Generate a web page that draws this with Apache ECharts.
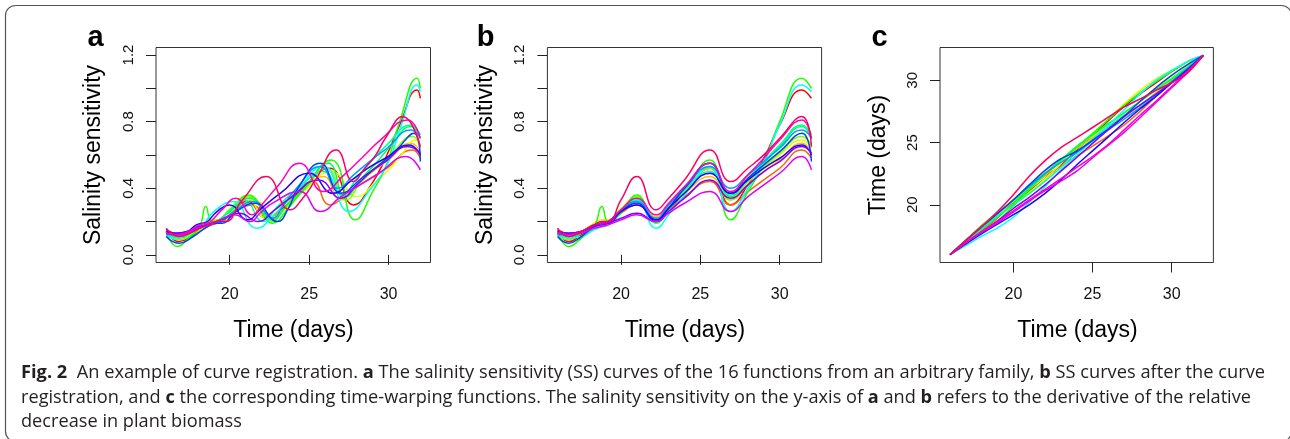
<!DOCTYPE html>
<html><head><meta charset="utf-8">
<script src="https://cdn.jsdelivr.net/npm/echarts@6/dist/echarts.min.js"></script>
<style>html,body{margin:0;padding:0;background:#fff}#chart{width:1290px;height:439px}</style>
</head><body><div id="chart"></div>
<script>
// ---------- DATA ----------
// registered time grid (panel b) and original-time positions of the same points (panel a)
const regTimes = [16, 16.7, 17.5, 18.3, 18.8, 19.2, 20, 21, 22.2, 23, 24, 25.6, 26.9, 28, 29, 30, 31.4, 32];
const warpTimes = [16, 17, 18, 19, 20, 21, 22, 23, 24, 25, 26, 27, 28, 29, 30, 31, 32];
const xTicks = [20, 25, 30];
const ssTicks = [0, 0.2, 0.4, 0.6, 0.8, 1.0, 1.2];
const ssLabels = [0, 0.4, 0.8, 1.2];
const warpTicks = [20, 25, 30];

// salinity sensitivity values of the 16 functions (same amplitudes in a and b)
const ssValues = [
  [0.14,0.08,0.12,0.17,0.19,0.20,0.26,0.32,0.22,0.27,0.38,0.52,0.30,0.42,0.58,0.78,0.99,0.94],
  [0.13,0.11,0.13,0.17,0.18,0.19,0.25,0.30,0.21,0.27,0.35,0.44,0.30,0.38,0.45,0.52,0.63,0.58],
  [0.12,0.12,0.14,0.18,0.19,0.20,0.26,0.33,0.23,0.29,0.37,0.47,0.33,0.42,0.50,0.57,0.67,0.62],
  [0.13,0.11,0.14,0.19,0.21,0.21,0.28,0.35,0.22,0.29,0.38,0.50,0.35,0.44,0.52,0.60,0.69,0.64],
  [0.12,0.09,0.13,0.18,0.20,0.20,0.27,0.35,0.20,0.28,0.38,0.52,0.33,0.44,0.53,0.61,0.71,0.66],
  [0.14,0.05,0.10,0.17,0.29,0.20,0.25,0.36,0.19,0.27,0.39,0.57,0.21,0.38,0.55,0.80,1.06,1.00],
  [0.13,0.10,0.13,0.18,0.19,0.20,0.27,0.34,0.21,0.30,0.40,0.55,0.35,0.46,0.55,0.65,0.77,0.70],
  [0.12,0.11,0.14,0.18,0.19,0.20,0.27,0.33,0.20,0.29,0.39,0.50,0.36,0.46,0.56,0.66,0.78,0.72],
  [0.13,0.10,0.11,0.15,0.17,0.18,0.26,0.32,0.16,0.24,0.36,0.53,0.26,0.40,0.56,0.78,1.02,0.98],
  [0.12,0.12,0.14,0.18,0.19,0.20,0.27,0.32,0.22,0.30,0.40,0.53,0.40,0.48,0.56,0.64,0.75,0.70],
  [0.11,0.07,0.11,0.17,0.19,0.19,0.26,0.31,0.20,0.28,0.40,0.55,0.37,0.46,0.54,0.62,0.73,0.56],
  [0.14,0.13,0.14,0.18,0.19,0.20,0.26,0.30,0.21,0.28,0.37,0.49,0.37,0.45,0.52,0.58,0.66,0.60],
  [0.15,0.13,0.14,0.17,0.18,0.19,0.22,0.25,0.20,0.26,0.34,0.45,0.34,0.42,0.50,0.56,0.65,0.61],
  [0.13,0.12,0.13,0.16,0.17,0.18,0.21,0.24,0.20,0.25,0.31,0.38,0.26,0.35,0.42,0.49,0.59,0.51],
  [0.13,0.12,0.14,0.18,0.19,0.20,0.27,0.34,0.24,0.31,0.41,0.55,0.38,0.48,0.58,0.69,0.81,0.70],
  [0.16,0.11,0.14,0.18,0.20,0.20,0.33,0.47,0.27,0.34,0.45,0.63,0.44,0.52,0.60,0.70,0.83,0.65]
];
// original (unregistered) times of the points above, panel a
const origTimes = [
  [16,16.8,17.7,18.6,19.1,19.5,20.2,21.1,22.3,23.2,24.4,26.3,27.8,28.9,29.8,30.7,31.8,32],
  [16,16.7,17.4,18.2,18.7,19.2,20.2,21.4,22.5,23.1,23.9,25.2,26.3,27.5,28.7,29.9,31.5,32],
  [16,16.8,17.6,18.5,19.0,19.4,20.3,21.5,22.8,23.6,24.5,25.9,27.0,28,29,30,31.4,32],
  [16,16.8,17.7,18.5,19.0,19.3,20,21,22.3,23.3,24.6,26.4,28.0,29.2,30.1,30.8,31.7,32],
  [16,16.8,17.8,18.7,19.2,19.6,20.3,21.3,22.6,23.5,24.6,26.1,27.3,28.3,29.3,30.2,31.5,32],
  [16,16.7,17.4,18.1,18.5,18.9,19.9,21.2,22.7,23.6,24.6,26.4,27.9,29.0,29.9,30.7,31.8,32],
  [16,16.8,17.6,18.3,18.8,19.2,20.1,21.3,22.7,23.6,24.7,26.2,27.3,28.3,29.2,30.1,31.4,32],
  [16,16.7,17.6,18.4,18.9,19.3,20,20.9,22.1,23,24.2,25.9,27.1,28,28.9,29.9,31.4,32],
  [16,16.5,17.1,17.7,18.0,18.3,19.0,20.2,21.7,22.8,24,25.9,27.5,28.9,30.0,30.8,31.8,32],
  [16,16.8,17.7,18.5,19.1,19.5,20.4,21.5,22.7,23.4,24.2,25.7,26.8,27.8,28.8,29.9,31.4,32],
  [16,16.8,17.7,18.6,19.1,19.5,20.4,21.6,23.0,23.7,24.3,25.7,27.0,28.3,29.4,30.4,31.6,32],
  [16,16.6,17.3,17.9,18.3,18.6,19.2,20.0,21.1,22.0,23.2,25.0,26.5,27.7,28.7,29.8,31.3,32],
  [16,16.7,17.4,18.1,18.5,18.9,19.7,20.6,21.8,22.7,23.8,25.6,27.0,28,28.9,29.8,31.2,32],
  [16,16.7,17.4,18.0,18.4,18.7,19.4,20.3,21.3,21.9,22.7,24.4,25.7,27.0,28.2,29.4,31.1,32],
  [16,16.7,17.4,18.1,18.5,18.8,19.5,20.4,21.4,22.1,23.0,24.4,25.9,27.2,28.3,29.5,31.2,32],
  [16,16.8,17.7,18.6,19.2,19.7,20.8,22.3,23.8,24.6,25.4,26.7,27.8,28.5,29.2,29.8,30.9,32]
];
// time-warping functions, panel c
const warpValues = [
  [16,17.14,18.26,19.3,20.2,21.1,22.1,23.2,24.4,25.59,26.76,27.9,28.9,29.8,30.7,31.49,32],
  [16,16.96,17.9,18.95,20.2,21.4,22.32,23.1,23.9,24.71,25.54,26.41,27.5,28.7,29.9,31.04,32],
  [16,17.1,18.16,19.2,20.3,21.5,22.58,23.6,24.5,25.38,26.24,27.09,28,29,30,31,32],
  [16,17.14,18.2,19.15,20,21,22.08,23.3,24.6,25.73,26.89,28.11,29.2,30.1,30.8,31.44,32],
  [16,17.18,18.36,19.4,20.3,21.3,22.38,23.5,24.6,25.54,26.47,27.39,28.3,29.3,30.2,31.13,32],
  [16,16.96,17.84,18.7,19.9,21.2,22.45,23.6,24.6,25.73,26.86,28,29,29.9,30.7,31.49,32],
  [16,17.1,18.04,19,20.1,21.3,22.47,23.6,24.7,25.64,26.54,27.39,28.3,29.2,30.1,31.03,32],
  [16,17.04,18.1,19.1,20,20.9,21.9,23,24.2,25.26,26.27,27.18,28,28.9,29.9,30.97,32],
  [16,16.73,17.48,18.15,19,20.2,21.45,22.8,24,25.19,26.39,27.63,28.9,30,30.8,31.51,32],
  [16,17.14,18.2,19.3,20.4,21.5,22.5,23.4,24.2,25.14,26.04,26.89,27.8,28.8,29.9,30.97,32],
  [16,17.14,18.26,19.3,20.4,21.6,22.77,23.7,24.3,25.18,26.1,27.12,28.3,29.4,30.4,31.26,32],
  [16,16.86,17.68,18.45,19.2,20,20.92,22,23.2,24.33,25.46,26.61,27.7,28.7,29.8,30.87,32],
  [16,16.96,17.84,18.7,19.7,20.6,21.6,22.7,23.8,24.93,26.03,27.09,28,28.9,29.8,30.8,32],
  [16,16.96,17.78,18.55,19.4,20.3,21.13,21.9,22.7,23.76,24.8,25.82,27,28.2,29.4,30.61,32],
  [16,16.96,17.84,18.65,19.5,20.4,21.23,22.1,23,23.88,24.86,26.02,27.2,28.3,29.5,30.71,32],
  [16,17.14,18.26,19.45,20.8,22.3,23.55,24.6,25.4,26.21,27.04,27.86,28.5,29.2,29.8,30.59,32]
];

// ---------- STYLE ----------
const palette = ['#FF0000','#FF6000','#FFBF00','#DFFF00','#80FF00','#20FF00','#00FF40','#00FF9F',
                 '#00FFFF','#009FFF','#0040FF','#2000FF','#8000FF','#DF00FF','#FF00BF','#FF0060'];
const AX_FONT = 'Liberation Sans';
const grids = [
  {left:156, top:47.5, width:274.5, height:215},
  {left:547.4, top:47.5, width:274.2, height:215},
  {left:940, top:47.5, width:273.4, height:215}
];

function xAxis(i){
  return {type:'value', gridIndex:i, min:15.36, max:32.64,
    axisLine:{show:false}, splitLine:{show:false},
    axisTick:{show:true, length:10, inside:false, customValues:xTicks, lineStyle:{color:'#222', width:1}},
    axisLabel:{customValues:xTicks, fontSize:16, color:'#111', fontFamily:AX_FONT, margin:24}};
}
function yAxis(i, isWarp){
  const ax = {type:'value', gridIndex:i,
    axisLine:{show:false}, splitLine:{show:false},
    axisTick:{show:true, length:10, lineStyle:{color:'#222', width:1}},
    axisLabel:{fontSize:15, color:'#111', fontFamily:AX_FONT, rotate:90, margin:20}};
  if (isWarp){
    ax.min = 15.36; ax.max = 32.64;
    ax.axisTick.customValues = warpTicks;
    ax.axisLabel.customValues = warpTicks;
  } else {
    ax.min = -0.046; ax.max = 1.245;
    ax.axisTick.customValues = ssTicks;
    ax.axisLabel.customValues = ssLabels;
    ax.axisLabel.formatter = v => Number(v).toFixed(1);
  }
  return ax;
}

const series = [];
for (let k = 0; k < 16; k++){
  const base = {type:'line', showSymbol:false, silent:true, animation:false,
    lineStyle:{width:1.5, color:palette[k]}, itemStyle:{color:palette[k]}};
  series.push(Object.assign({}, base, {xAxisIndex:0, yAxisIndex:0, smooth:0.5,
    data: origTimes[k].map((t, j) => [t, ssValues[k][j]])}));
  series.push(Object.assign({}, base, {xAxisIndex:1, yAxisIndex:1, smooth:0.5,
    data: regTimes.map((t, j) => [t, ssValues[k][j]])}));
  series.push(Object.assign({}, base, {xAxisIndex:2, yAxisIndex:2, smooth:0.3,
    data: warpTimes.map((t, j) => [t, warpValues[k][j]])}));
}

// ---------- CAPTION ----------
const CAP_FONT = 'Open Sans', CAP_SIZE = 18.5, CAP_COLOR = '#231f20';
const capLines = [
  {y:372.5, right:1265, segs:[['Fig. 2',1],['  An example of curve registration. ',0],['a',1],[' The salinity sensitivity (SS) curves of the 16 functions from an arbitrary family, ',0],['b',1],[' SS curves after the curve',0]]},
  {y:397.5, right:1251, segs:[['registration, and ',0],['c',1],[' the corresponding time-warping functions. The salinity sensitivity on the y-axis of ',0],['a',1],[' and ',0],['b',1],[' refers to the derivative of the relative',0]]},
  {y:422, right:null, segs:[['decrease in plant biomass',0]]}
];
const cv = document.createElement('canvas').getContext('2d');
function measure(segs){
  let w = 0;
  segs.forEach(s => { cv.font = (s[1] ? 'bold ' : '') + CAP_SIZE + 'px "' + CAP_FONT + '"'; w += cv.measureText(s[0]).width; });
  return w;
}
let lastScale = 0.9;
const graphics = [];
capLines.forEach(L => {
  const w = measure(L.segs);
  const sc = L.right ? (L.right - 21) / w : lastScale;
  lastScale = sc;
  graphics.push({type:'text', x:21, y:L.y, scaleX:sc, scaleY:1, silent:true,
    style:{text: L.segs.map(s => s[1] ? '{b|' + s[0] + '}' : s[0]).join(''),
      fontFamily:CAP_FONT, fontSize:CAP_SIZE, fill:CAP_COLOR, align:'left', verticalAlign:'middle',
      rich:{b:{fontWeight:'bold', fontFamily:CAP_FONT, fontSize:CAP_SIZE, fill:CAP_COLOR}}}});
});

// frame around the figure
graphics.push({type:'rect', silent:true, shape:{x:5.5, y:5.5, width:1286, height:436, r:10},
  style:{fill:'none', stroke:'#555', lineWidth:1.2}});

// panel letters and axis titles
[['a',95.5],['b',485.5],['c',879.5]].forEach(p => graphics.push({type:'text', x:p[1], y:38, silent:true,
  style:{text:p[0], fontFamily:AX_FONT, fontWeight:'bold', fontSize:29, fill:'#000', align:'center', verticalAlign:'middle'}}));
[293.5, 685, 1077.5].forEach(x => graphics.push({type:'text', x:x, y:331, silent:true,
  style:{text:'Time (days)', fontFamily:AX_FONT, fontSize:23, fill:'#000', align:'center', verticalAlign:'middle'}}));
[[94,'Salinity sensitivity'],[485.5,'Salinity sensitivity'],[879,'Time (days)']].forEach(p => graphics.push({type:'text',
  x:p[0], y:155, rotation:Math.PI/2, silent:true,
  style:{text:p[1], fontFamily:AX_FONT, fontSize:23, fill:'#000', align:'center', verticalAlign:'middle'}}));

const chart = echarts.init(document.getElementById('chart'), null, {renderer:'canvas'});
chart.setOption({
  animation:false,
  backgroundColor:'#fff',
  grid: grids.map(g => Object.assign({show:true, borderColor:'#333', borderWidth:1, backgroundColor:'transparent',
    containLabel:false, outerBoundsMode:'none'}, g)),
  xAxis: [xAxis(0), xAxis(1), xAxis(2)],
  yAxis: [yAxis(0,false), yAxis(1,false), yAxis(2,true)],
  series: series,
  graphic: graphics
});
</script></body></html>
